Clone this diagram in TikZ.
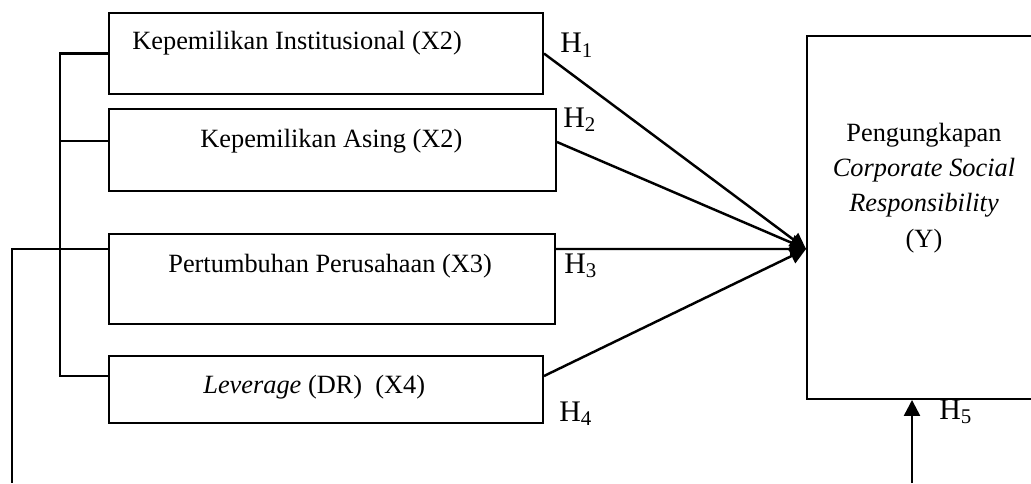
\documentclass[tikz,border=0pt]{standalone}
\usepackage{fontspec}
\setmainfont{Liberation Serif}
\usetikzlibrary{arrows.meta}
\tikzstyle{box}=[draw, rectangle, line width=1.1pt, inner sep=0pt]
\tikzstyle{arrow}=[draw=black, line width=1.4pt, -{Triangle[length=3.2mm, width=3.2mm]}]
\tikzstyle{line}=[draw=black, line width=1.2pt]
\tikzstyle{txt}=[anchor=base west, inner sep=0pt, font=\fontsize{15}{18}\selectfont]
\tikzstyle{hyp}=[anchor=base west, inner sep=0pt, font=\fontsize{17}{20}\selectfont]

\begin{document}
\begin{tikzpicture}
		   \path [use as bounding box, clip] (0, 0) rectangle (20.62, 9.66);
		   \begin{scope}
			   \node (x1) at (6.52, 8.59)[box, minimum width=8.68cm, minimum height=1.62cm] {};
			   \node (x2) at (6.65, 6.66)[box, minimum width=8.94cm, minimum height=1.64cm] {};
			   \node (x3) at (6.64, 4.08)[box, minimum width=8.92cm, minimum height=1.80cm] {};
			   \node (x4) at (6.52, 1.87)[box, minimum width=8.68cm, minimum height=1.34cm] {};
			   \node (y) at (18.48, 5.31)[box, minimum width=4.68cm, minimum height=7.26cm] {};

			   \node (t1) at (2.64, 8.68)[txt] {Kepemilikan Institusional (X2)};
			   \node (t2) at (4.00, 6.72)[txt] {Kepemilikan Asing (X2)};
			   \node (t3) at (3.36, 4.22)[txt] {Pertumbuhan Perusahaan (X3)};
			   \node (t4) at (4.06, 1.80)[txt] {\textit{Leverage} (DR)~ (X4)};
			   \node (ty) at (18.48, 5.90)[align=center, inner sep=0pt, font=\fontsize{15}{20}\selectfont]
				   {Pengungkapan\\ \textit{Corporate Social}\\ \textit{Responsibility}\\ (Y)};

			   \node (h1) at (11.20, 8.60)[hyp] {H\textsubscript{1}};
			   \node (h2) at (11.26, 7.12)[hyp] {H\textsubscript{2}};
			   \node (h3) at (11.28, 4.20)[hyp] {H\textsubscript{3}};
			   \node (h4) at (11.18, 1.24)[hyp] {H\textsubscript{4}};
			   \node (h5) at (18.78, 1.28)[hyp] {H\textsubscript{5}};
		   \end{scope}
		   \begin{scope}
			   \coordinate (bus) at (1.20, 0);
			   \coordinate (outer) at (0.24, 0);
			   \coordinate (b2) at ([yshift=0.18cm]x2.west);
			   \coordinate (b3) at ([yshift=0.60cm]x3.west);
			   \coordinate (b4) at ([yshift=0.27cm]x4.west);
			   \coordinate (e2) at ([yshift=0.16cm]x2.east);
			   \coordinate (e3) at ([yshift=0.60cm]x3.east);
			   \coordinate (e4) at ([yshift=0.27cm]x4.east);
			   \coordinate (tip) at ([yshift=-0.63cm]y.west);
			   \coordinate (src) at (18.24, 0);

			   \path [line] (x1.west) -- (x1.west -| bus) |- (b4);
			   \path [line] (b2) -- (b2 -| bus);
			   \path [line] (b3) -| (outer);

			   \path (x1.east) edge [arrow] (tip);
			   \path (e2) edge [arrow] (tip);
			   \path (e3) edge [arrow] (tip);
			   \path (e4) edge [arrow] (tip);
			   \path (src) edge [arrow] (src |- y.south);
		   \end{scope}
\end{tikzpicture}
\end{document}
